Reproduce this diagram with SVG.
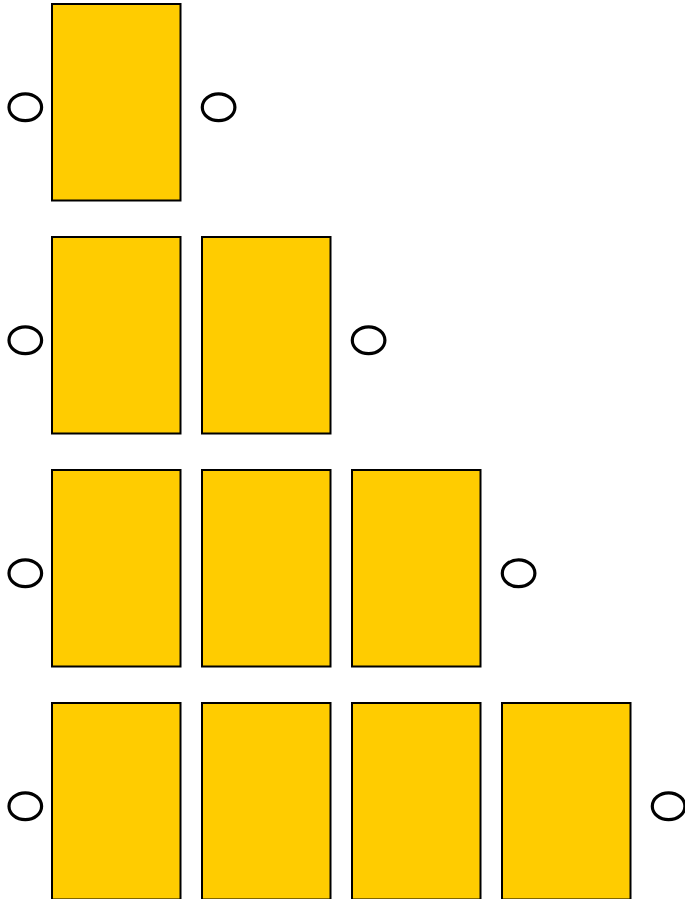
<svg xmlns="http://www.w3.org/2000/svg" width="685" height="899" viewBox="0 0 685 899">
<style>
.box{fill:#FFCC00;stroke:#000;stroke-width:2}
.port{fill:#fff;stroke:#000;stroke-width:3.2}
</style>
<rect width="685" height="899" fill="#fff"/>
<g id="row1">
<g id="r1e1"><ellipse class="port" cx="25.3" cy="107.3" rx="16.3" ry="13.4"/></g>
<g id="r1b1"><rect class="box" x="52" y="4" width="128.5" height="196.5"/></g>
<g id="r1e2"><ellipse class="port" cx="218.6" cy="107.3" rx="16.3" ry="13.4"/></g>
</g>
<g id="row2">
<g id="r2e1"><ellipse class="port" cx="25.3" cy="340.3" rx="16.3" ry="13.4"/></g>
<g id="r2b1"><rect class="box" x="52" y="237" width="128.5" height="196.5"/></g>
<g id="r2b2"><rect class="box" x="202" y="237" width="128.5" height="196.5"/></g>
<g id="r2e2"><ellipse class="port" cx="368.6" cy="340.3" rx="16.3" ry="13.4"/></g>
</g>
<g id="row3">
<g id="r3e1"><ellipse class="port" cx="25.3" cy="573.3" rx="16.3" ry="13.4"/></g>
<g id="r3b1"><rect class="box" x="52" y="470" width="128.5" height="196.5"/></g>
<g id="r3b2"><rect class="box" x="202" y="470" width="128.5" height="196.5"/></g>
<g id="r3b3"><rect class="box" x="352" y="470" width="128.5" height="196.5"/></g>
<g id="r3e2"><ellipse class="port" cx="518.6" cy="573.3" rx="16.3" ry="13.4"/></g>
</g>
<g id="row4">
<g id="r4e1"><ellipse class="port" cx="25.3" cy="806.3" rx="16.3" ry="13.4"/></g>
<g id="r4b1"><rect class="box" x="52" y="703" width="128.5" height="196.5"/></g>
<g id="r4b2"><rect class="box" x="202" y="703" width="128.5" height="196.5"/></g>
<g id="r4b3"><rect class="box" x="352" y="703" width="128.5" height="196.5"/></g>
<g id="r4b4"><rect class="box" x="502" y="703" width="128.5" height="196.5"/></g>
<g id="r4e2"><ellipse class="port" cx="668.6" cy="806.3" rx="16.3" ry="13.4"/></g>
</g>
<g id="connectors"></g>
</svg>
